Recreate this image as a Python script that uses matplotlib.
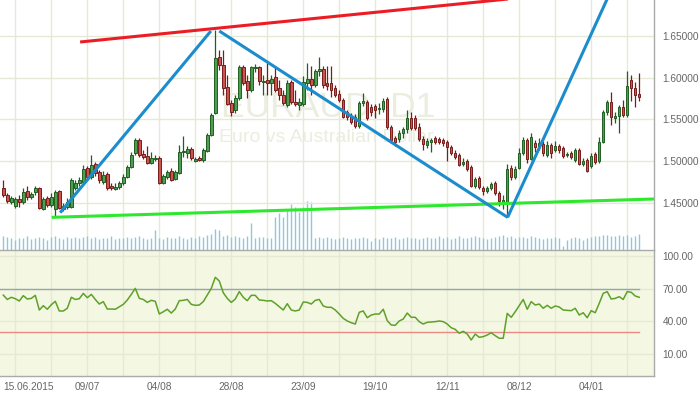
import matplotlib
matplotlib.use("Agg")
import matplotlib.pyplot as plt
import matplotlib.transforms as mtransforms
import numpy as np

plt.rcParams['font.family'] = ['Liberation Sans', 'DejaVu Sans']

# ---------------- data (EURAUD daily, 10.06.2015 - 20.01.2016) ----------------
opens = [1.4676,1.4592,1.4508,1.4460,1.4544,1.4508,1.4640,1.4568,1.4628,1.4676,
         1.4424,1.4556,1.4472,1.4424,1.4640,1.4424,1.4448,1.4448,1.4676,1.4736,
         1.4748,1.4916,1.4808,1.4964,1.4868,1.4748,1.4844,1.4700,1.4664,1.4688,
         1.4736,1.4808,1.4928,1.5096,1.5252,1.5084,1.5060,1.4976,1.5024,1.5036,
         1.4736,1.4808,1.4880,1.4784,1.4856,1.5108,1.5096,1.5144,1.5000,1.5036,
         1.5012,1.5120,1.5312,1.5576,1.6248,1.6152,1.5888,1.5696,1.5612,1.5756,
         1.6128,1.5960,1.5852,1.6116,1.6128,1.5948,1.5972,1.5936,1.6008,1.5876,
         1.5792,1.5672,1.5948,1.5708,1.5672,1.5684,1.5936,1.5984,1.5912,1.6080,
         1.6104,1.5936,1.5936,1.5876,1.5804,1.5732,1.5588,1.5540,1.5528,1.5420,
         1.5696,1.5708,1.5648,1.5660,1.5624,1.5624,1.5744,1.5408,1.5276,1.5264,
         1.5336,1.5384,1.5516,1.5516,1.5408,1.5264,1.5192,1.5228,1.5276,1.5264,
         1.5252,1.5228,1.5168,1.5096,1.5072,1.4964,1.5000,1.4928,1.4700,1.4796,
         1.4676,1.4640,1.4676,1.4736,1.4616,1.4508,1.4508,1.4916,1.4808,1.4916,
         1.5096,1.5252,1.5024,1.5216,1.5168,1.5204,1.5072,1.5192,1.5132,1.5180,
         1.5156,1.5072,1.5096,1.5012,1.5132,1.4964,1.5012,1.4940,1.5084,1.5000,
         1.5228,1.5588,1.5708,1.5516,1.5540,1.5648,1.5552,1.5972,1.5876,1.5804]
highs = [1.4772,1.4616,1.4580,1.4568,1.4592,1.4676,1.4700,1.4628,1.4700,1.4688,
         1.4568,1.4580,1.4616,1.4652,1.4652,1.4496,1.4556,1.4796,1.4772,1.4808,
         1.4952,1.4940,1.5072,1.4988,1.4892,1.4880,1.4868,1.4736,1.4736,1.4760,
         1.4844,1.4952,1.5108,1.5276,1.5276,1.5132,1.5180,1.5108,1.5072,1.5060,
         1.4844,1.4892,1.4916,1.4892,1.5192,1.5300,1.5180,1.5168,1.5048,1.5060,
         1.5156,1.5336,1.5576,1.6572,1.6332,1.6332,1.6032,1.5732,1.5792,1.6152,
         1.6152,1.6032,1.6140,1.6164,1.6140,1.6032,1.6176,1.6032,1.6128,1.5972,
         1.5852,1.5972,1.5972,1.5852,1.5756,1.6020,1.6176,1.6140,1.6104,1.6248,
         1.6140,1.6140,1.6140,1.5912,1.5852,1.5756,1.5612,1.5576,1.5564,1.5720,
         1.5816,1.5732,1.5684,1.5684,1.5696,1.5756,1.5768,1.5432,1.5300,1.5372,
         1.5408,1.5612,1.5588,1.5552,1.5456,1.5300,1.5276,1.5276,1.5300,1.5288,
         1.5276,1.5252,1.5192,1.5132,1.5096,1.5036,1.5024,1.4952,1.4808,1.4820,
         1.4700,1.4700,1.4748,1.4760,1.4640,1.4592,1.4964,1.4952,1.4940,1.5156,
         1.5288,1.5276,1.5336,1.5252,1.5276,1.5240,1.5240,1.5216,1.5240,1.5204,
         1.5180,1.5108,1.5120,1.5156,1.5156,1.5036,1.5036,1.5096,1.5108,1.5288,
         1.5612,1.5732,1.5828,1.5588,1.5672,1.5732,1.6080,1.6032,1.5948,1.6056]
lows = [1.4568,1.4496,1.4484,1.4436,1.4448,1.4484,1.4532,1.4544,1.4592,1.4424,
        1.4412,1.4448,1.4448,1.4328,1.4424,1.4400,1.4424,1.4436,1.4652,1.4700,
        1.4724,1.4772,1.4784,1.4820,1.4736,1.4724,1.4652,1.4652,1.4652,1.4664,
        1.4712,1.4796,1.4916,1.5072,1.5048,1.5024,1.4964,1.4964,1.5000,1.4724,
        1.4724,1.4784,1.4760,1.4772,1.4844,1.5048,1.5036,1.5012,1.4988,1.5000,
        1.4988,1.5108,1.5300,1.5564,1.6092,1.5792,1.5672,1.5540,1.5576,1.5732,
        1.5912,1.5756,1.5828,1.6068,1.5912,1.5792,1.5792,1.5792,1.5828,1.5732,
        1.5672,1.5648,1.5684,1.5660,1.5612,1.5660,1.5852,1.5792,1.5888,1.6020,
        1.5876,1.5852,1.5768,1.5768,1.5708,1.5516,1.5492,1.5444,1.5396,1.5396,
        1.5660,1.5492,1.5540,1.5516,1.5564,1.5588,1.5384,1.5216,1.5180,1.5228,
        1.5276,1.5336,1.5372,1.5372,1.5240,1.5132,1.5156,1.5108,1.5204,1.5204,
        1.5180,1.5000,1.5072,1.5024,1.4940,1.4940,1.4880,1.4688,1.4676,1.4664,
        1.4592,1.4616,1.4652,1.4592,1.4460,1.4424,1.4328,1.4772,1.4784,1.4904,
        1.5072,1.4976,1.5012,1.5108,1.5132,1.5060,1.5048,1.5036,1.5108,1.5096,
        1.5036,1.5048,1.5024,1.4988,1.4952,1.4940,1.4868,1.4916,1.4964,1.4976,
        1.5216,1.5552,1.5432,1.5456,1.5336,1.5528,1.5528,1.5720,1.5648,1.5720]
closes = [1.4592,1.4520,1.4556,1.4544,1.4508,1.4628,1.4568,1.4604,1.4676,1.4436,
          1.4544,1.4472,1.4568,1.4628,1.4436,1.4460,1.4508,1.4772,1.4736,1.4772,
          1.4904,1.4808,1.4952,1.4856,1.4772,1.4832,1.4676,1.4676,1.4688,1.4736,
          1.4808,1.4928,1.5072,1.5252,1.5072,1.5048,1.4976,1.5036,1.5036,1.4736,
          1.4820,1.4868,1.4772,1.4868,1.5108,1.5120,1.5144,1.5036,1.5024,1.5012,
          1.5132,1.5312,1.5552,1.6236,1.6152,1.5876,1.5684,1.5588,1.5756,1.6128,
          1.5936,1.5852,1.6128,1.6128,1.5960,1.5960,1.5936,1.5984,1.5852,1.5792,
          1.5696,1.5936,1.5708,1.5684,1.5708,1.5948,1.5984,1.5912,1.6080,1.6104,
          1.5912,1.5900,1.5852,1.5792,1.5732,1.5528,1.5528,1.5468,1.5420,1.5696,
          1.5720,1.5516,1.5588,1.5612,1.5636,1.5720,1.5408,1.5252,1.5228,1.5336,
          1.5384,1.5516,1.5396,1.5396,1.5264,1.5204,1.5240,1.5252,1.5228,1.5228,
          1.5216,1.5168,1.5096,1.5048,1.4952,1.4988,1.4904,1.4700,1.4784,1.4688,
          1.4640,1.4676,1.4724,1.4616,1.4520,1.4532,1.4904,1.4808,1.4904,1.5096,
          1.5252,1.5024,1.5288,1.5168,1.5216,1.5096,1.5192,1.5096,1.5180,1.5132,
          1.5060,1.5084,1.5048,1.5132,1.4964,1.5000,1.4880,1.5060,1.4988,1.5228,
          1.5588,1.5708,1.5528,1.5540,1.5648,1.5552,1.5900,1.5876,1.5792,1.5768]
volumes = [14,13,12,10,12,12,14,11,12,13, 12,10,13,14,12,11,13,12,13,12,
           13,14,12,13,11,12,12,14,11,12, 12,13,12,13,14,12,11,12,20,12,
           11,13,12,12,14,12,11,13,12,14, 13,15,16,21,20,14,15,13,14,13,
           12,14,27,12,13,13,12,12,33,37, 33,41,46,43,38,43,49,48,12,13,
           12,13,12,11,12,13,12,11,12,12, 13,12,9,12,11,13,12,12,13,11,
           12,13,12,12,11,12,13,12,12,14, 12,13,11,12,14,12,12,13,14,13,
           12,11,12,13,14,15,13,14,12,13, 13,12,14,13,12,11,12,12,13,12,
           4,10,12,13,12,10,12,13,14,14, 15,15,14,14,15,14,15,13,14,16]
rsi = [64.0,60.0,62.0,60.7,58.6,63.5,60.4,61.0,63.8,50.3,
       54.3,51.0,55.2,58.3,49.4,49.4,51.9,62.0,60.0,60.7,
       65.6,61.6,64.7,60.0,55.8,58.0,51.2,51.2,51.0,53.3,
       55.5,59.5,64.7,70.2,61.0,60.0,57.3,59.2,58.3,46.6,
       48.7,51.0,47.5,51.2,58.9,59.2,60.0,55.5,54.6,54.9,
       58.0,64.1,70.2,80.4,77.0,66.2,61.0,57.3,60.4,67.2,
       62.0,58.9,63.8,63.8,59.5,59.2,58.6,58.9,56.4,53.3,
       50.3,56.1,50.3,49.4,50.3,57.7,57.3,55.8,59.2,60.0,
       54.0,52.8,52.8,50.3,46.6,42.6,40.2,38.6,37.4,48.2,
       49.4,43.2,45.7,46.6,46.6,51.0,40.5,36.5,36.2,40.2,
       42.0,47.5,43.6,43.6,39.6,37.4,39.0,39.3,39.6,40.2,
       39.6,37.4,34.0,32.5,28.9,30.7,28.2,22.7,28.2,25.2,
       25.8,27.3,29.4,26.7,24.3,24.3,47.2,43.6,48.7,54.3,
       60.0,51.0,58.0,54.9,55.8,51.9,54.6,51.9,54.0,53.1,
       50.3,50.0,49.7,51.9,45.7,47.8,43.2,49.7,47.8,56.4,
       65.6,67.2,60.4,61.0,62.6,60.0,67.2,66.6,63.2,62.0]

x_tick_labels = ['15.06.2015', '09/07', '04/08', '28/08', '23/09',
                 '19/10', '12/11', '08/12', '04/01']
price_ticks = [1.45, 1.50, 1.55, 1.60, 1.65]
rsi_ticks = [10, 40, 70, 100]
rsi_levels = [70, 30]

# drawn trend lines: (bar index, price) end points
red_line = [(19.2, 1.6428), (126.4, 1.6945)]
green_line = [(12.1, 1.4324), (162.7, 1.4544)]
blue_lines = [[(14.2, 1.4380), (51.9, 1.6560)],
              [(54.0, 1.6560), (126.1, 1.4324)],
              [(126.1, 1.4324), (152.0, 1.7050)]]

# ---------------- figure ----------------
W, H = 700, 394
fig = plt.figure(figsize=(W / 100, H / 100), dpi=100)
fig.patch.set_facecolor('white')

bg = '#f4f7e2'
grid_c = '#e6e9d6'
axis_c = '#aaaaaa'
txt_c = '#666666'
wm_c = '#ebeddf'

x = np.arange(len(closes))
xlim = (-0.83, 162.7)

ax_vol = fig.add_axes([0, 1 - 250 / H, 654 / W, 250 / H])
ax = fig.add_axes([0, 1 - 250 / H, 654 / W, 250 / H], sharex=ax_vol)
ax_rsi = fig.add_axes([0, 1 - 376 / H, 654 / W, 126 / H])

ax_vol.set_facecolor(bg)
ax.patch.set_visible(False)
ax_rsi.set_facecolor(bg)

# vertical grid every 9 bars starting at 15.06
vgrid = np.arange(3, 163, 9)
for a in (ax_vol, ax_rsi):
    for g in vgrid:
        a.axvline(g, color=grid_c, lw=1, zorder=0)

# volume
ax_vol.vlines(x, 0, volumes, color='#8cc8e0', lw=1.0, zorder=1)
ax_vol.set_ylim(0, 250)
ax_vol.set_xlim(*xlim)
ax_vol.axis('off')

# price grid
for p in price_ticks:
    ax.axhline(p, color=grid_c, lw=1, zorder=0)

# watermark
ax.text(0.5015, 0.572, 'EURAUD, D1', transform=ax.transAxes, ha='center', va='center',
        fontsize=25.5, color=wm_c, zorder=1)
ax.text(0.499, 0.452, 'Euro vs Australian Dollar', transform=ax.transAxes, ha='center',
        va='center', fontsize=14, color=wm_c, zorder=1)

# candles
o = np.array(opens); c = np.array(closes); h = np.array(highs); l = np.array(lows)
up = c >= o
edge = np.where(up, '#1f5f22', '#7a1c1c')
fill = np.where(up, '#4e9d50', '#c8564f')
ax.vlines(x, l, h, colors=edge, lw=0.9, zorder=3)
body_h = np.maximum(np.abs(c - o), 0.0007)
body_b = np.where(np.abs(c - o) < 0.0007, (o + c) / 2 - 0.00035, np.minimum(o, c))
ax.bar(x, body_h, bottom=body_b, width=0.62, color=fill, edgecolor=edge,
       linewidth=0.7, zorder=4)

# trend lines
ax.plot(*zip(*red_line), color='#ec1c24', lw=2.2, zorder=5, solid_capstyle='butt')
ax.plot(*zip(*green_line), color='#2ee82e', lw=2.2, zorder=5, solid_capstyle='butt')
for bl in blue_lines:
    ax.plot(*zip(*bl), color='#1b8ccc', lw=2.2, zorder=5, solid_capstyle='butt')

ax.set_xlim(*xlim)
ax.set_ylim(1.3932, 1.6932)
ax.yaxis.tick_right()
ax.set_yticks(price_ticks)
ax.set_yticklabels(['%.5f' % p for p in price_ticks])
ax.tick_params(axis='y', length=0, pad=6, labelsize=7.3, labelcolor=txt_c)
ax.tick_params(axis='x', length=0, labelbottom=False)
for s in ('top', 'left', 'bottom'):
    ax.spines[s].set_visible(False)
ax.spines['right'].set_color(axis_c)
ax.spines['right'].set_linewidth(1)

# RSI panel
for r in rsi_ticks:
    ax_rsi.axhline(r, color=grid_c, lw=1, zorder=0)
ax_rsi.plot([-0.83, x[-1]], [rsi_levels[0]] * 2, color='#93a8ab', lw=1, zorder=2)
ax_rsi.plot([-0.83, x[-1]], [rsi_levels[1]] * 2, color='#eb8a84', lw=1, zorder=2)
ax_rsi.plot(x, rsi, color='#5ea12a', lw=1.1, zorder=3)
ax_rsi.set_xlim(*xlim)
ax_rsi.set_ylim(-10.4, 105.5)
ax_rsi.yaxis.tick_right()
ax_rsi.set_yticks(rsi_ticks)
ax_rsi.set_yticklabels(['%.2f' % r for r in rsi_ticks])
ax_rsi.tick_params(axis='y', length=0, pad=6, labelsize=7.3, labelcolor=txt_c)
ax_rsi.set_xticks(np.arange(3, 163, 18)[:len(x_tick_labels)])
ax_rsi.set_xticklabels(x_tick_labels)
ax_rsi.tick_params(axis='x', length=0, pad=4, labelsize=7.3, labelcolor=txt_c)
first = ax_rsi.get_xticklabels()[0]
first.set_transform(first.get_transform() +
                    mtransforms.ScaledTranslation(13 / 100, 0, fig.dpi_scale_trans))
for s in ('top', 'left'):
    ax_rsi.spines[s].set_visible(False)
for s in ('right', 'bottom'):
    ax_rsi.spines[s].set_color(axis_c)
    ax_rsi.spines[s].set_linewidth(1)

# separator between panels
fig.add_artist(plt.Line2D([0, 654 / W], [1 - 250 / H, 1 - 250 / H],
                          color=axis_c, lw=1, transform=fig.transFigure))

fig.savefig('out.png', dpi=100, facecolor='white')
